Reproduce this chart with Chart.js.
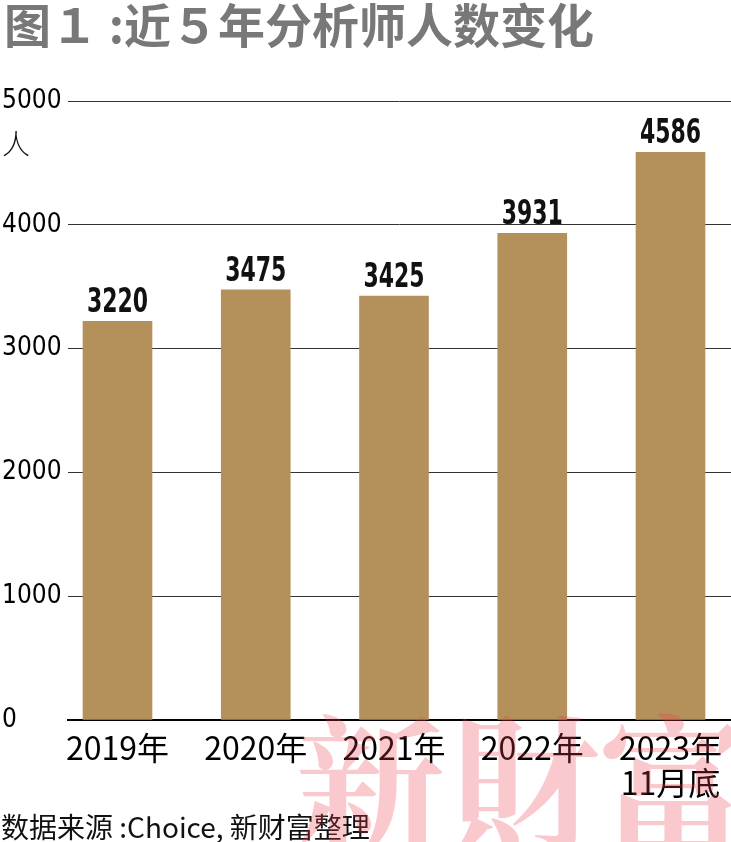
<!DOCTYPE html>
<html>
<head>
<meta charset="utf-8">
<script src="https://cdn.jsdelivr.net/npm/chart.js@4.4.1/dist/chart.umd.min.js"></script>
<style>
  html, body { margin: 0; padding: 0; background: #ffffff; }
  #wrap { width: 731px; height: 842px; position: relative; }
</style>
</head>
<body>
<div id="wrap"><canvas id="c" width="731" height="842"></canvas></div>
<script>
// ---- data ----
const categories = ["2019年", "2020年", "2021年", "2022年", ["2023年", "11月底"]];
const analysts = [3220, 3475, 3425, 3931, 4586];
const yTicks = [0, 1000, 2000, 3000, 4000, 5000];
const titleText = "图１ :近５年分析师人数变化";
const unitText = "人";
const sourceText = "数据来源 :Choice, 新财富整理";
const watermarkChars = ["新", "財", "富"];

const narrow = '"DejaVu Sans Condensed", "Liberation Sans", sans-serif';
const cjk = '"Noto Sans CJK SC", "Noto Sans", sans-serif';

const decor = {
  id: 'decor',
  afterDraw(chart) {
    const ctx = chart.ctx;
    const y = chart.scales.y;
    ctx.save();
    // title
    ctx.fillStyle = '#787878';
    ctx.font = 'bold 47px ' + cjk;
    ctx.textAlign = 'left';
    ctx.textBaseline = 'alphabetic';
    ctx.fillText(titleText, 4, 43);
    // unit
    ctx.fillStyle = '#111';
    ctx.font = '300 28px ' + cjk;
    ctx.fillText(unitText, 2, y.getPixelForValue(5000) + 54);
    // bar value labels (condensed)
    const meta = chart.getDatasetMeta(0);
    ctx.font = 'bold 33px ' + narrow;
    ctx.textAlign = 'center';
    ctx.textBaseline = 'alphabetic';
    ctx.fillStyle = '#111';
    const sx = 0.74;
    meta.data.forEach((bar, i) => {
      ctx.save();
      ctx.scale(sx, 1);
      ctx.fillText(String(analysts[i]), bar.x / sx, bar.y - 9);
      ctx.restore();
    });
    // source
    ctx.textAlign = 'left';
    ctx.font = '28px ' + cjk;
    ctx.fillText(sourceText, 1, 838);
    // watermark
    ctx.fillStyle = 'rgba(232, 60, 78, 0.28)';
    ctx.font = 'bold 150px "Noto Serif CJK TC", "Noto Serif CJK SC", serif';
    const wx = [296, 450, 598];
    watermarkChars.forEach((ch, i) => ctx.fillText(ch, wx[i], 842));
    ctx.restore();
  }
};

new Chart(document.getElementById('c'), {
  type: 'bar',
  data: {
    datasets: [{
      data: analysts.map((v, i) => ({ x: i, y: v })),
      backgroundColor: '#b4915a',
      barThickness: 69
    }]
  },
  options: {
    responsive: false,
    animation: false,
    layout: { padding: { top: 101, left: 2, right: 0, bottom: 0 } },
    plugins: { legend: { display: false }, tooltip: { enabled: false } },
    scales: {
      x: {
        type: 'linear',
        offset: false,
        min: -0.358,
        max: 4.4376,
        afterBuildTicks: s => { s.ticks = categories.map((c, i) => ({ value: i })); },
        afterFit: s => { s.height = 122; },
        grid: { display: false, offset: false },
        border: { display: true, color: '#000', width: 2 },
        ticks: {
          callback: (v) => categories[v],
          color: '#000',
          padding: 2,
          maxRotation: 0,
          autoSkip: false,
          font: { family: cjk, size: 32, lineHeight: 1.1 }
        }
      },
      y: {
        min: 0,
        max: 5000,
        afterBuildTicks: s => { s.ticks = yTicks.map(v => ({ value: v })); },
        afterFit: s => { s.width = 66; },
        border: { display: false },
        grid: { color: '#333', lineWidth: 1, drawTicks: false },
        ticks: {
          crossAlign: 'far',
          padding: 0,
          color: '#000',
          callback: (v) => String(v),
          font: { family: narrow, size: 26 }
        }
      }
    }
  },
  plugins: [decor]
});
</script>
</body>
</html>
